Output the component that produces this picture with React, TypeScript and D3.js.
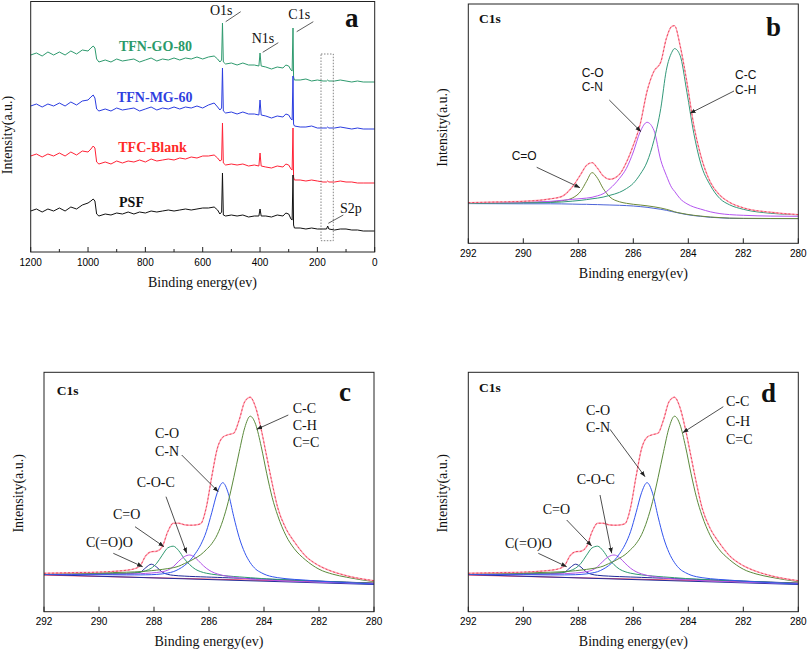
import React from 'react';
import * as d3 from 'd3';

// ---------- Panel a: XPS survey spectra ----------
const surveyEnergy = [1200,1180,1160,1140,1120,1100,1080,1060,1040,1020,1000,990,982,976,970,962,
  940,920,900,880,860,840,820,800,780,760,740,720,700,680,660,640,620,600,580,560,
  548,540,534,531,528,520,500,480,460,440,420,404,400,396,380,360,340,320,
  310,300,292,288,285,283,280,260,240,220,200,180,168,164,160,140,120,100,80,60,40,20,0];
const tfnGO80 = [197,199,196,200,197,200,197,201,198,202,201,204,206,204,193,190,
  192,190,193,191,192,193,190,192,194,191,193,192,194,192,194,193,195,193,195,196,
  193,190,192,229,190,188,189,187,189,187,187,186,199,186,185,183,185,184,
  187,186,182,181,224,175,172,172,173,171,172,171,171,172,171,171,172,171,170,171,170,170,170];
const tfnMG60 = [146,148,145,148,146,149,146,150,147,151,152,155,157,154,143,141,
  143,141,144,142,143,144,141,143,145,142,144,143,145,143,145,144,146,144,147,149,
  145,142,144,184,141,139,140,138,140,138,138,137,152,137,136,134,136,135,
  138,137,133,132,176,128,126,125,125,126,124,124,124,125,124,124,125,124,123,124,123,123,123];
const tfcBlank = [96,98,95,98,96,99,96,100,97,101,100,103,106,104,90,88,
  90,88,91,89,91,90,92,90,93,91,92,93,92,94,93,95,94,96,96,97,
  94,91,92,129,89,87,88,87,88,86,87,86,99,86,85,84,86,85,
  88,87,83,82,124,75,72,72,71,72,71,70,70,71,70,70,71,70,70,69,69,69,69];
const psf = [41,43,40,43,41,44,41,45,43,47,49,51,53,51,38,36,
  38,37,39,38,40,38,40,39,41,40,41,42,41,42,43,42,43,44,44,45,
  42,38,40,79,37,36,37,36,37,35,36,36,43,36,36,35,37,36,
  39,38,33,32,77,27,24,24,23,24,23,23,23,26,23,22,23,23,22,22,21,21,21];
const surveyTicks = [1200, 1000, 800, 600, 400, 200, 0];
const surveyMinorTicks = [1100, 900, 700, 500, 300, 100];
const surveyNames = ['TFN-GO-80', 'TFN-MG-60', 'TFC-Blank', 'PSF'];

// ---------- Panel b: C1s ----------
const bEnergy = [292,291,290,289,288.6,288.2,287.9,287.7,287.5,287.3,287.1,286.85,286.5,286.25,286,285.75,285.5,285.25,285,284.8,284.6,284.5,284.3,284.05,283.8,283.55,283.2,282.85,282.5,282,281,280];
const bBackground = [39.7,39.6,39.5,39.5,39.4,39.2,39,39,38.8,38.7,38.5,38.3,38,37.7,37.3,36.7,36,35,34,33,31.8,31.2,30,28.7,27.7,27,26,25.5,25,24.8,24.7,24.7];
const bCdO = [40.2,40.5,40.8,41.5,42.5,45.5,52.5,62,70.7,65,55,46.3,41.5,40,39,38.3,37.5,36.5,35.3,34,32.5,31.5,30.3,29,28,27.2,26.3,25.7,25.2,25,24.8,24.7];
const bCO = [40.2,40.5,41,42,43,44,44.7,45.2,46,47.5,49.5,54.7,65,75,91.3,111.5,121,113,83,68,55.5,52,44.7,39.5,36.3,34.2,31.5,29.7,28.7,28,27.2,27];
const bCC = [40,40.2,40.4,40.8,41.3,42.2,43,43.7,44.5,45.2,46.2,48,51,54.7,60,69,81.3,103,135,173,191,194.7,188,151,110,80,58,44.7,38.5,34,30,28.5];
const bEnvelope = [40.7,41.3,42,44.5,46.8,57,69.5,78,80.7,75,67.5,64,69,81,98,119,152,172,181.3,204.7,217,217.7,198,161,118,88,61.3,48,41,35.5,31,28.7];

// ---------- Panels c and d: C1s fits ----------
const cdEnergy = [292,291,290,289.5,289,288.7,288.5,288.3,288.1,287.9,287.7,287.5,287.3,287.1,286.9,286.7,286.5,286.3,286.1,285.9,285.7,285.5,285.3,285.1,284.9,284.7,284.5,284.3,284.1,283.9,283.7,283.5,283.2,282.9,282.5,282,281.5,281,280];
const cdCC = [38,38.3,38.8,39.1,39.5,39.8,40.1,40.5,41,41.6,42.3,43.1,44,45.5,48,50.5,53.5,57,62,68,77,91,110,134,160,184,195.5,187,165,138,114,96,76,63,52,42.5,37.5,34.5,30];
const cdCO = [37.2,37.1,37,36.9,36.8,36.8,36.8,36.9,37,37.3,37.8,38.7,40,42.5,46,51,58,67,80,99,119,129,118.5,95,74,59,49,42.5,39,36.5,35,34,33,32.3,31.6,30.5,29.8,29,27.7];
const cdCOC = [37.3,37.3,37.3,37.4,37.6,37.8,38,38.3,38.7,39.2,40,41.5,45,50.5,55,56.7,54,48.5,43.5,40,37.8,36.3,35.3,34.4,33.7,33.2,32.7,32.3,32,31.7,31.4,31.1,30.7,30.4,30,29.6,29.2,28.8,28];
const cdCdO = [37.5,37.6,37.8,38,38.4,38.9,39.5,41,43.5,48.5,56.5,63.8,65.5,61,53,47,42.5,40,38.5,37.5,36.8,36.2,35.7,35.2,34.8,34.4,34,33.6,33.2,32.9,32.6,32.3,31.9,31.5,31,30.5,29.9,29.4,28.3];
const cdCOO = [37.6,37.7,37.9,38,38.2,38.6,39.5,44,47.5,44.5,39.5,37.3,36.4,35.9,35.6,35.3,35.1,34.9,34.7,34.5,34.3,34.1,33.9,33.7,33.5,33.3,33.1,32.9,32.7,32.5,32.3,32.1,31.8,31.5,31.1,30.6,30.1,29.6,28.5];
const cdEnvelope = [38.4,39,39.6,40.3,41.5,43,46,56,60,60.5,65,80,88.5,88.5,87,86.5,86.7,88,104,135,163,174.5,177,178.5,192,210,214.5,204,182,155,128,104,83,70,56,46,40,36,31];
const cdBaseEnergy = [292, 280];
const cdBaseRed = [36.6, 28.6];
const cdBaseNavy = [37.1, 27.2];
const c1sTicks = [292, 290, 288, 286, 284, 282, 280];

const SERIF = "'Liberation Serif', 'Times New Roman', serif";
const SANS = "'Liberation Sans', Arial, sans-serif";

type Box = { x0: number; x1: number; y0: number; y1: number };

function mkLine(xs: any, ys: any, energy: number[], curve = true) {
  const g = d3.line<number>().x((_, i) => xs(energy[i])).y((d) => ys(d));
  if (curve) g.curve(d3.curveMonotoneX);
  return g;
}

function Axis({ box, xs, ticks, minor }: { box: Box; xs: any; ticks: number[]; minor?: number[] }) {
  return (
    <g>
      <rect x={box.x0} y={box.y0} width={box.x1 - box.x0} height={box.y1 - box.y0} fill="none" stroke="#222" strokeWidth={1} />
      {ticks.map((t) => (
        <g key={'t' + t}>
          <line x1={xs(t)} x2={xs(t)} y1={box.y1} y2={box.y1 - 5} stroke="#222" strokeWidth={1} />
          <text x={xs(t)} y={box.y1 + 10} textAnchor="middle" dominantBaseline="central" fontFamily={SANS} fontSize={10}>{t}</text>
        </g>
      ))}
      {(minor || []).map((t) => (
        <line key={'m' + t} x1={xs(t)} x2={xs(t)} y1={box.y1} y2={box.y1 - 3} stroke="#222" strokeWidth={1} />
      ))}
    </g>
  );
}

function Titles({ box, xc, yTitleX, yc }: { box: Box; xc: number; yTitleX: number; yc: number }) {
  return (
    <g fontFamily={SERIF} fontSize={14} fill="#111">
      <text x={xc} y={box.y1 + 30} textAnchor="middle" dominantBaseline="central">Binding energy(ev)</text>
      <text transform={`translate(${yTitleX},${yc}) rotate(-90)`} textAnchor="middle" dominantBaseline="central">Intensity(a.u.)</text>
    </g>
  );
}

function Arrow({ x1, y1, x2, y2 }: { x1: number; y1: number; x2: number; y2: number }) {
  return <line x1={x1} y1={y1} x2={x2} y2={y2} stroke="#222" strokeWidth={0.8} markerEnd="url(#arr)" />;
}

function Envelope({ d }: { d: string }) {
  return (
    <g>
      <path d={d} fill="none" stroke="#ffa6b4" strokeWidth={1.4} />
      <path d={d} fill="none" stroke="#e8304c" strokeWidth={0.8} strokeDasharray="2 2" />
    </g>
  );
}

function PanelA() {
  const box: Box = { x0: 30.7, x1: 374.7, y0: 1.5, y1: 252 };
  const xs = d3.scaleLinear().domain([1200, 0]).range([box.x0, box.x1]);
  const ys = d3.scaleLinear().domain([0, 250]).range([box.y1, box.y1 - 250]);
  const series = [
    { v: tfnGO80, c: '#2e9a6e' },
    { v: tfnMG60, c: '#2b3de0' },
    { v: tfcBlank, c: '#ff2236' },
    { v: psf, c: '#111111' },
  ];
  const lbl = [
    { x: 155.5, y: 50.5, c: '#2a9a6a' },
    { x: 154.7, y: 101.5, c: '#2f3fe0' },
    { x: 152.5, y: 151.5, c: '#ff2a2a' },
    { x: 131.5, y: 206.5, c: '#111' },
  ];
  const gen = mkLine(xs, ys, surveyEnergy, false);
  return (
    <g>
      {series.map((s, i) => (
        <path key={i} d={gen(s.v) || ''} fill="none" stroke={s.c} strokeWidth={1} strokeLinejoin="round" />
      ))}
      {surveyNames.map((n, i) => (
        <text key={n} x={lbl[i].x} y={lbl[i].y} textAnchor="middle" fontFamily={SERIF} fontWeight="bold" fontSize={14} fill={lbl[i].c}>{n}</text>
      ))}
      <rect x={321} y={54} width={12.3} height={186.7} fill="none" stroke="#666" strokeWidth={0.8} strokeDasharray="1.5 1.5" />
      <g fontFamily={SERIF} fontSize={14} fill="#111">
        <text x={210} y={15}>O1s</text>
        <text x={251.7} y={43.3}>N1s</text>
        <text x={288.3} y={19}>C1s</text>
        <text x={340} y={213}>S2p</text>
      </g>
      <g stroke="#333" strokeWidth={0.8}>
        <line x1={225.7} y1={21.7} x2={240.7} y2={11.7} />
        <line x1={262.7} y1={52.3} x2={278.3} y2={42.7} />
        <line x1={296.7} y1={31.7} x2={313.3} y2={21.7} />
        <line x1={328.3} y1={223.3} x2={343.3} y2={215} />
      </g>
      <text x={345} y={26.5} fontFamily={SERIF} fontWeight="bold" fontSize={27} fill="#111">a</text>
      <Axis box={box} xs={xs} ticks={surveyTicks} minor={surveyMinorTicks} />
      <Titles box={box} xc={202.5} yTitleX={7.5} yc={135} />
    </g>
  );
}

function PanelB() {
  const box: Box = { x0: 468.3, x1: 798.3, y0: 4, y1: 243.3 };
  const xs = d3.scaleLinear().domain([292, 280]).range([box.x0, box.x1]);
  const ys = d3.scaleLinear().domain([0, 240]).range([box.y1, box.y1 - 240]);
  const gen = mkLine(xs, ys, bEnergy);
  return (
    <g>
      <path d={gen(bBackground) || ''} fill="none" stroke="#4c64d8" strokeWidth={1} />
      <path d={gen(bCdO) || ''} fill="none" stroke="#6d8a3a" strokeWidth={1} />
      <path d={gen(bCO) || ''} fill="none" stroke="#b455f0" strokeWidth={1} />
      <path d={gen(bCC) || ''} fill="none" stroke="#33997a" strokeWidth={1} />
      <Envelope d={gen(bEnvelope) || ''} />
      <text x={479} y={23.3} fontFamily={SERIF} fontWeight="bold" fontSize={13.5} fill="#111">C1s</text>
      <text x={766} y={36} fontFamily={SERIF} fontWeight="bold" fontSize={27} fill="#111">b</text>
      <g fontFamily={SANS} fontSize={12} fill="#111">
        <text x={581.7} y={76.6}>C-O</text>
        <text x={581.7} y={91}>C-N</text>
        <text x={735} y={79.3}>C-C</text>
        <text x={735} y={93.6}>C-H</text>
        <text x={511.7} y={160}>C=O</text>
      </g>
      <Arrow x1={609.3} y1={100} x2={641} y2={131.7} />
      <Arrow x1={734} y1={91} x2={690} y2={113.3} />
      <Arrow x1={536.7} y1={167.3} x2={580} y2={187.7} />
      <Axis box={box} xs={xs} ticks={c1sTicks} />
      <Titles box={box} xc={633.3} yTitleX={442.5} yc={127.5} />
    </g>
  );
}

function PanelCD({ box, letter, lab, yTitleX, xc }: { box: Box; letter: string; lab: any; yTitleX: number; xc: number }) {
  const xs = d3.scaleLinear().domain([292, 280]).range([box.x0, box.x1]);
  const ys = d3.scaleLinear().domain([0, 240]).range([box.y1, box.y1 - 240]);
  const gen = mkLine(xs, ys, cdEnergy);
  const base = mkLine(xs, ys, cdBaseEnergy, false);
  return (
    <g>
      <path d={base(cdBaseRed) || ''} fill="none" stroke="#ff4060" strokeWidth={1} />
      <path d={base(cdBaseNavy) || ''} fill="none" stroke="#25309a" strokeWidth={1} />
      <path d={gen(cdCOO) || ''} fill="none" stroke="#1f2a9a" strokeWidth={1} />
      <path d={gen(cdCdO) || ''} fill="none" stroke="#2f9a70" strokeWidth={1} />
      <path d={gen(cdCOC) || ''} fill="none" stroke="#b455e8" strokeWidth={1} />
      <path d={gen(cdCO) || ''} fill="none" stroke="#3355ee" strokeWidth={1} />
      <path d={gen(cdCC) || ''} fill="none" stroke="#5b8a3c" strokeWidth={1} />
      <Envelope d={gen(cdEnvelope) || ''} />
      <text x={lab.c1s[0]} y={lab.c1s[1]} fontFamily={SERIF} fontWeight="bold" fontSize={13.5} fill="#111">C1s</text>
      <text x={lab.letter[0]} y={lab.letter[1]} fontFamily={SERIF} fontWeight="bold" fontSize={27} fill="#111">{letter}</text>
      <g fontFamily={SERIF} fontSize={14} fill="#111">
        <text x={lab.cc[0]} y={lab.cc[1]}>C-C</text>
        <text x={lab.cc[0]} y={lab.cc[2]}>C-H</text>
        <text x={lab.cc[0]} y={lab.cc[3]}>C=C</text>
        <text x={lab.co[0]} y={lab.co[1]}>C-O</text>
        <text x={lab.co[0]} y={lab.co[2]}>C-N</text>
        <text x={lab.coc[0]} y={lab.coc[1]}>C-O-C</text>
        <text x={lab.cdo[0]} y={lab.cdo[1]}>C=O</text>
        <text x={lab.coo[0]} y={lab.coo[1]}>C(=O)O</text>
      </g>
      {lab.arrows.map((a: number[], i: number) => (
        <Arrow key={i} x1={a[0]} y1={a[1]} x2={a[2]} y2={a[3]} />
      ))}
      <Axis box={box} xs={xs} ticks={c1sTicks} />
      <Titles box={box} xc={xc} yTitleX={yTitleX} yc={493.3} />
    </g>
  );
}

export default function App() {
  const labC = {
    c1s: [56.7, 395], letter: [339, 400.5],
    cc: [292.7, 412.7, 430, 446.7], co: [155, 438, 455.7], coc: [136.7, 487.4], cdo: [113, 518.7], coo: [86, 547.4],
    arrows: [[288.3, 415, 256.7, 429.3], [181.7, 455, 218.3, 491.7], [166, 496.7, 186.7, 553.3], [135, 526.7, 164, 546.7], [113.3, 553.3, 142.7, 566.7]],
  };
  const labD = {
    c1s: [479, 391.7], letter: [761, 401.5],
    cc: [726, 406.4, 425.7, 443.7], co: [586, 414.7, 432], coc: [576.7, 484], cdo: [542.7, 514], coo: [505, 548],
    arrows: [[723.3, 406.7, 682.7, 432.7], [610, 429.3, 645, 476.7], [600, 495, 611.7, 553.3], [566.7, 520, 591.7, 546], [538.3, 553.3, 566.7, 566.7]],
  };
  return (
    <svg width={808} height={651} style={{ position: 'absolute', left: 0, top: 0, background: '#fff' }}>
      <defs>
        <marker id="arr" viewBox="0 0 10 10" refX={10} refY={5} markerWidth={7} markerHeight={7} orient="auto">
          <path d="M0,1 L10,5 L0,9 z" fill="#222" />
        </marker>
      </defs>
      <rect x={0} y={0} width={808} height={651} fill="#fff" />
      <PanelA />
      <PanelB />
      <PanelCD box={{ x0: 44, x1: 374, y0: 372.3, y1: 611.7 }} letter="c" lab={labC} yTitleX={18.8} xc={209} />
      <PanelCD box={{ x0: 468.3, x1: 798.3, y0: 372.3, y1: 611.7 }} letter="d" lab={labD} yTitleX={442.5} xc={633.3} />
    </svg>
  );
}
